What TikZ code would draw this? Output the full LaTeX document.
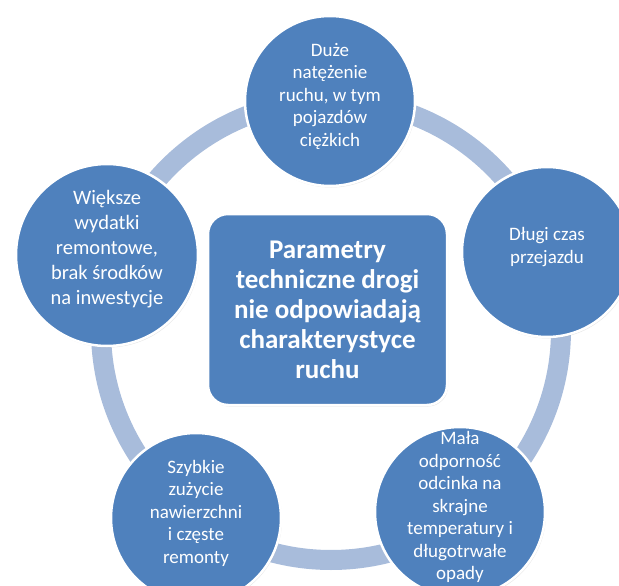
\documentclass[tikz,border=0pt]{standalone}
\usepackage{fontspec}
\setmainfont{Carlito}
\usetikzlibrary{shadows}
\definecolor{niebieski}{RGB}{79,129,189}
\definecolor{pierscien}{RGB}{168,188,219}
\newcommand{\wiersze}[1]{\smash{\begin{tabular}{@{}c@{}}#1\end{tabular}}}

\begin{document}
\begin{tikzpicture}[x=1pt,y=-1pt,text=white]
  \tikzstyle{krag}=[circle,fill=niebieski,draw=white,line width=2.5pt,
    minimum size=170pt,inner sep=0pt,font=\fontsize{19}{22.5}\selectfont,
    drop shadow={opacity=0.2,shadow xshift=1pt,shadow yshift=-1.5pt}]
  \tikzstyle{srodek}=[rectangle,rounded corners=20pt,fill=niebieski,draw=white,
    line width=2.5pt,minimum width=239pt,minimum height=191pt,align=center,
    font=\fontsize{27}{30}\selectfont\bfseries,
    drop shadow={opacity=0.2,shadow xshift=1pt,shadow yshift=-1.5pt}]

  \useasboundingbox (0,0) rectangle (619,586);
  \clip (0,0) rectangle (619,586);

  \coordinate (O) at (331,330);
  \draw[pierscien,line width=20pt] (O) circle (230);

  \node[srodek] (parametry) at (327.5,309.5)
    {Parametry\\techniczne drogi\\nie odpowiadają\\charakterystyce\\ruchu};

  \node[krag] (ruch)      at (330,101) {\wiersze{Duże\\natężenie\\ruchu, w tym\\pojazdów\\ciężkich}};
  \node[krag] (czas)      at (547,252) {\wiersze{Długi czas\\przejazdu}};
  \node[krag] (odpornosc) at (460,512) {\wiersze{Mała\\odporność\\odcinka na\\skrajne\\temperatury i\\długotrwałe\\opady}};
  \node[krag] (zuzycie)   at (196,518) {\wiersze{Szybkie\\zużycie\\nawierzchni\\i częste\\remonty}};
  \node[krag,minimum size=182pt,font=\fontsize{20.5}{25}\selectfont]
    (wydatki) at (107,255) {\wiersze{Większe\\wydatki\\remontowe,\\brak środków\\na inwestycje}};
\end{tikzpicture}
\end{document}
